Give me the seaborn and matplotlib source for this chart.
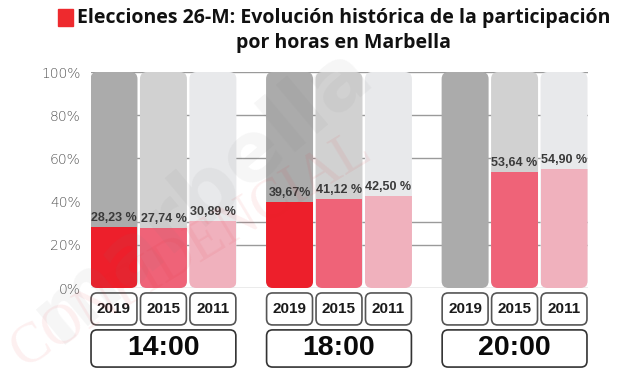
import numpy as np
import pandas as pd
import matplotlib.pyplot as plt
import seaborn as sns
from matplotlib import transforms
from matplotlib.patches import FancyBboxPatch, Rectangle

hours = ["14:00", "18:00", "20:00"]
years = ["2019", "2015", "2011"]
turnout_2019 = [28.23, 39.67, np.nan]
turnout_2015 = [27.74, 41.12, 53.64]
turnout_2011 = [30.89, 42.50, 54.90]
labels_2019 = ["28,23 %", "39,67%", ""]
labels_2015 = ["27,74 %", "41,12 %", "53,64 %"]
labels_2011 = ["30,89 %", "42,50 %", "54,90 %"]
y_ticks = [0, 20, 40, 60, 80, 100]
grid_levels = [0, 20, 30.5, 60, 80, 100]  # lines as drawn in the original graphic

bar_colors = ["#ED1F2B", "#EF6378", "#F0B1BD"]
back_colors = ["#ABABAB", "#D1D1D1", "#E8E9EB"]

all_values = [turnout_2019, turnout_2015, turnout_2011]
all_labels = [labels_2019, labels_2015, labels_2011]

rows = []
for i, h in enumerate(hours):
    for j, y in enumerate(years):
        rows.append({"hour": h, "year": y, "value": all_values[j][i], "full": 100})
df = pd.DataFrame(rows)

sns.set_style("white")
plt.rcParams["font.family"] = ["Liberation Sans", "DejaVu Sans"]

fig = plt.figure(figsize=(6.2, 3.83), dpi=100)
ax = fig.add_axes([90.5 / 620, 1 - 288 / 383, 497 / 620, 216 / 383])

# background (grey) columns
sns.barplot(data=df, x="hour", y="full", hue="year", order=hours, hue_order=years,
            palette=back_colors, saturation=1, width=0.845, gap=0.05, linewidth=0,
            errorbar=None, legend=False, ax=ax)
back = sorted(ax.patches, key=lambda p: p.get_x())

# turnout columns
sns.barplot(data=df.dropna(), x="hour", y="value", hue="year", order=hours, hue_order=years,
            palette=bar_colors, saturation=1, width=0.845, gap=0.05, linewidth=0,
            errorbar=None, legend=False, ax=ax)
fore = [p for p in ax.patches if p not in back]

x0 = back[0].get_x()
x1 = back[-1].get_x() + back[-1].get_width()
ax.set_xlim(x0, x1)
ax.set_ylim(0, 100)

px_x = ax.transData.transform((1, 0))[0] - ax.transData.transform((0, 0))[0]
px_y = ax.transData.transform((0, 1))[1] - ax.transData.transform((0, 0))[1]
r = 7 / px_x

rounded = []
for p in back:
    x, w = p.get_x(), p.get_width()
    fc = p.get_facecolor()
    p.remove()
    rp = FancyBboxPatch((x, 0), w, 100, boxstyle=f"round,pad=0,rounding_size={r}",
                        mutation_aspect=(7 / px_y) / r, fc=fc, ec="none", zorder=1)
    ax.add_patch(rp)
    rounded.append(rp)

for p in fore:
    cx = p.get_x() + p.get_width() / 2
    k = int(np.argmin([abs(rp.get_x() + rp.get_width() / 2 - cx) for rp in rounded]))
    p.set_zorder(2)
    p.set_clip_path(rounded[k])
    ax.annotate(all_labels[k % 3][k // 3], (cx, p.get_height()), xytext=(0, 2.5),
                textcoords="offset points", ha="center", va="bottom", fontsize=9,
                fontweight="bold", color="#3a3a3a", zorder=3)

for v in grid_levels:
    ax.axhline(v, color="#9a9a9a", lw=1, zorder=0.5)

ax.set_yticks(y_ticks)
ax.set_yticklabels([f"{v}%" for v in y_ticks], fontsize=10, color="#555555",
                   family="DejaVu Sans", fontweight="light")
offset = transforms.ScaledTranslation(0, -4 / 72, fig.dpi_scale_trans)
for lab in ax.get_yticklabels():
    lab.set_transform(lab.get_transform() + offset)
ax.tick_params(axis="y", length=0, pad=7)
ax.tick_params(axis="x", length=0)
ax.set_xticklabels([])
ax.set_xlabel("")
ax.set_ylabel("")
for s in ax.spines.values():
    s.set_visible(False)

# year and hour boxes under the columns
blend = transforms.blended_transform_factory(ax.transData, ax.transAxes)
rb = 6 / px_x
asp = (6 / 216) / rb
for k, rp in enumerate(rounded):
    x, w = rp.get_x(), rp.get_width()
    box = FancyBboxPatch((x + 0.003, -0.171), w - 0.006, 0.148,
                         boxstyle=f"round,pad=0,rounding_size={rb}", mutation_aspect=asp,
                         fc="white", ec="#555555", lw=1.2, transform=blend, clip_on=False)
    ax.add_patch(box)
    ax.text(x + w / 2, -0.097, years[k % 3], transform=blend, ha="center", va="center",
            fontsize=11, fontweight="bold", color="#1a1a1a")

for g, h in enumerate(hours):
    left = rounded[3 * g].get_x()
    right = rounded[3 * g + 2].get_x() + rounded[3 * g + 2].get_width()
    box = FancyBboxPatch((left + 0.003, -0.366), right - left - 0.006, 0.172,
                         boxstyle=f"round,pad=0,rounding_size={rb}", mutation_aspect=asp,
                         fc="white", ec="#333333", lw=1.2, transform=blend, clip_on=False)
    ax.add_patch(box)
    ax.text((left + right) / 2, -0.28, h, transform=blend, ha="center", va="center",
            fontsize=20.5, fontweight="bold", color="#0a0a0a")

# title
fig.text(344 / 620, 1 - 18 / 383, "Elecciones 26-M: Evolución histórica de la participación",
         ha="center", va="center", fontsize=14, fontweight="bold", family="Open Sans", color="#111111")
fig.text(344 / 620, 1 - 43 / 383, "por horas en Marbella",
         ha="center", va="center", fontsize=14, fontweight="bold", family="Open Sans", color="#111111")
fig.patches.append(Rectangle((58 / 620, 1 - 26 / 383), 15 / 620, 17 / 383,
                             transform=fig.transFigure, color="#EE2A2E"))

# faint watermark
fig.text(58 / 620, 1 - 345 / 383, "marbella", rotation=40, rotation_mode="anchor",
         ha="left", va="baseline", fontsize=60, family="DejaVu Sans", fontweight="bold",
         color="#7a7a7a", alpha=0.07, zorder=10)
fig.text(22 / 620, 1 - 368 / 383, "CONFIDENCIAL", rotation=31, rotation_mode="anchor",
         ha="left", va="baseline", fontsize=40, family="Liberation Serif",
         color="#E8202A", alpha=0.07, zorder=10)

plt.savefig("out.png", dpi=100)
